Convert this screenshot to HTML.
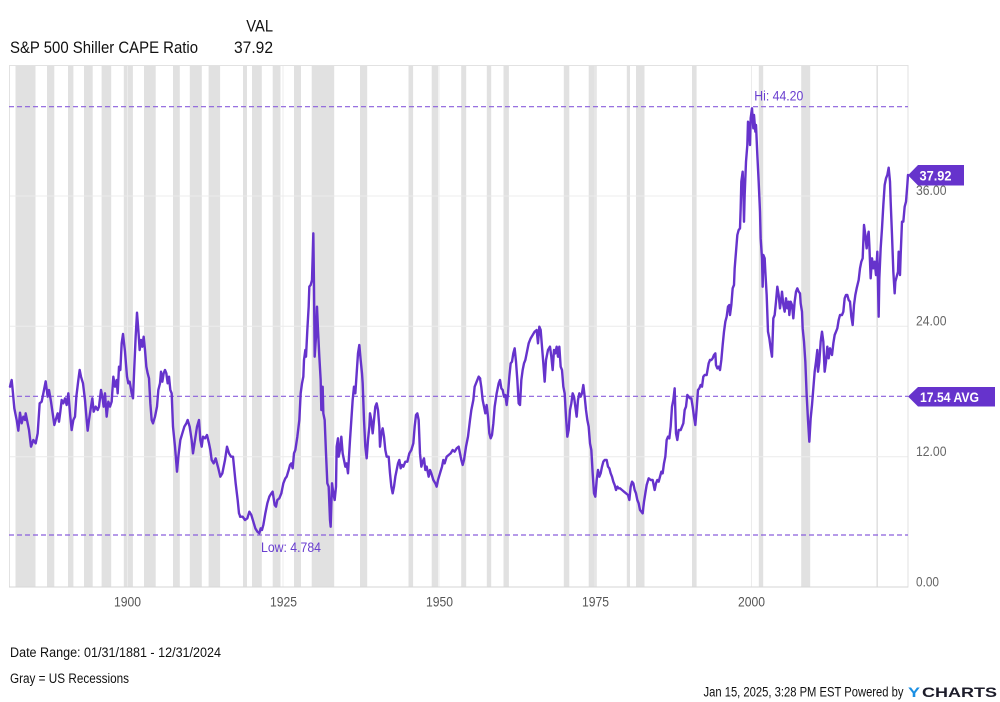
<!DOCTYPE html>
<html><head><meta charset="utf-8"><style>
html,body{margin:0;padding:0;background:#fff;}
svg{display:block;font-family:"Liberation Sans",sans-serif;}
</style></head><body>
<svg width="1000" height="702" viewBox="0 0 1000 702" xmlns="http://www.w3.org/2000/svg">
<rect x="0" y="0" width="1000" height="702" fill="#fff"/>
<!-- header -->
<text x="10" y="53" font-size="17" fill="#111" textLength="188" lengthAdjust="spacingAndGlyphs">S&amp;P 500 Shiller CAPE Ratio</text>
<text x="273" y="31.7" font-size="17" fill="#111" text-anchor="end" textLength="26.7" lengthAdjust="spacingAndGlyphs">VAL</text>
<text x="273" y="53" font-size="17" fill="#111" text-anchor="end" textLength="39" lengthAdjust="spacingAndGlyphs">37.92</text>
<!-- recession bands -->
<g fill="#e1e1e1">
<rect x="15.5" y="65" width="20" height="522"/>
<rect x="47" y="65" width="7.3" height="522"/>
<rect x="68" y="65" width="5.4" height="522"/>
<rect x="84" y="65" width="8.7" height="522"/>
<rect x="101.6" y="65" width="9.6" height="522"/>
<rect x="123.8" y="65" width="9.1" height="522"/>
<rect x="144" y="65" width="11.7" height="522"/>
<rect x="173" y="65" width="6.8" height="522"/>
<rect x="189.8" y="65" width="12" height="522"/>
<rect x="208.6" y="65" width="11.5" height="522"/>
<rect x="243" y="65" width="4" height="522"/>
<rect x="252" y="65" width="9.8" height="522"/>
<rect x="272.7" y="65" width="7.8" height="522"/>
<rect x="294" y="65" width="7" height="522"/>
<rect x="311.7" y="65" width="22.5" height="522"/>
<rect x="360" y="65" width="7.2" height="522"/>
<rect x="408.5" y="65" width="4.6" height="522"/>
<rect x="431.7" y="65" width="6.4" height="522"/>
<rect x="461.2" y="65" width="5" height="522"/>
<rect x="486.8" y="65" width="4.4" height="522"/>
<rect x="503.5" y="65" width="5.4" height="522"/>
<rect x="563.8" y="65" width="5.5" height="522"/>
<rect x="588.7" y="65" width="8" height="522"/>
<rect x="626.8" y="65" width="3.2" height="522"/>
<rect x="636" y="65" width="8.5" height="522"/>
<rect x="692" y="65" width="4.6" height="522"/>
<rect x="758.8" y="65" width="4.4" height="522"/>
<rect x="801.2" y="65" width="9" height="522"/>
<rect x="876.4" y="65" width="1.6" height="522"/>
</g>
<!-- grid -->
<g stroke="#ececec" stroke-width="1">
<line x1="9" y1="196" x2="908" y2="196"/>
<line x1="9" y1="326.3" x2="908" y2="326.3"/>
<line x1="9" y1="456.7" x2="908" y2="456.7"/>
<line x1="127.5" y1="65" x2="127.5" y2="587"/>
<line x1="283" y1="65" x2="283" y2="587"/>
<line x1="439" y1="65" x2="439" y2="587"/>
<line x1="595" y1="65" x2="595" y2="587"/>
<line x1="751.5" y1="65" x2="751.5" y2="587"/>
</g>
<!-- plot border -->
<rect x="9.5" y="65.5" width="898.5" height="521.5" fill="none" stroke="#e2e2e2" stroke-width="1"/>
<line x1="9" y1="587" x2="908" y2="587" stroke="#d6d6d6" stroke-width="1"/>
<!-- dashed lines -->
<g stroke="#8a5fdc" stroke-width="1.2" stroke-dasharray="5,3" fill="none">
<line x1="9" y1="106.7" x2="908" y2="106.7"/>
<line x1="9" y1="396.3" x2="908" y2="396.3"/>
<line x1="9" y1="535" x2="908" y2="535"/>
</g>
<!-- series -->
<g fill="none" stroke="#6633cc" stroke-width="2.4" stroke-linejoin="round" stroke-linecap="round">
<g transform="translate(5,220) scale(0.3333333)">
<polyline vector-effect="non-scaling-stroke" points="15,500 20,480 23,510 28,565 35,600 40,632 45,578 50,610 55,590 60,600 62,580 68,610 72,630 78,680 85,660 92,670 98,640 104,550 110,545 115,520 122,484 128,530 132,510 138,545 143,580 148,615 152,600 158,580 162,605 166,575 170,540 175,550 180,535 185,555 190,520 196,590 200,630 205,600 210,590 214,530 220,480 224,450 228,470 234,490 240,540 245,600 248,632 252,600 258,560 262,535 266,575 272,560 278,570 282,560 288,510 292,530 296,560 300,520 305,590 310,545 315,560 320,545 325,470 330,500 335,480 338,520 342,440 346,450 350,370 354,342 360,395 366,470 370,490 374,485 380,520 384,535 388,440 392,350 396,278 400,330 404,390 408,360 412,380 416,350 420,390 424,440 428,460 432,475 436,550 440,600 444,610 450,590 456,560 460,510 465,490 468,455 472,485 476,460 480,450 484,460 488,490 492,470 496,510 500,520 504,620 510,680 516,755 520,710 526,660 532,640 538,620 544,610 548,600 554,620 560,660 564,700 570,660 576,620 582,600 586,660 590,680 594,650 600,655 606,645 612,670 616,690 620,720 626,730 632,715 636,730 640,745 646,770 652,760 656,740 660,720 666,680 672,700 678,710 684,710 688,750 692,790 698,840 702,880 706,890"/>
</g>
<g transform="translate(240,220) scale(0.3333333)">
<polyline vector-effect="non-scaling-stroke" points="0,890 8,890 15,900 22,895 28,875 34,885 40,905 46,925 52,935 58,940 62,925 66,930 70,915 76,880 82,850 88,830 94,820 98,815 104,855 108,860 112,840 118,835 124,820 130,790 136,775 140,770 146,750 150,735 154,730 158,745 162,700 166,690 172,650 178,600 182,520 186,490 190,470 192,420 196,390 198,410 202,330 206,260 208,200 212,195 216,180 220,40 222,200 224,410 228,350 231,260 234,330 238,410 242,480 244,570 248,500 250,580 254,600 258,700 262,790 266,800 270,900 272,920 276,790 280,820 284,840 288,800 290,680 294,655 296,710 300,690 304,650 308,700 312,720 316,740 320,730 324,760 330,660 334,600 338,540 342,500 346,520 350,460 354,400 358,375 362,420 366,460 368,490 372,600 376,680 380,715 384,660 388,620 390,580 394,600 398,640 402,600 406,560 410,550 414,570 418,620 420,680 424,640 428,625 432,650 436,690 440,710 446,710 450,760 454,800 458,820 462,800 466,770 470,750 474,730 478,720 482,745 486,735 490,740 496,725 502,725 508,700 514,690 520,670 524,620 528,585 532,580 536,600 540,700 544,740 548,725 552,715 556,750 560,740 566,770 570,750 574,760 580,780 586,790 590,800 594,780 600,760 606,740 610,720 614,730 620,710 626,705 632,700 638,690 644,695 650,685 656,680 660,700 664,720 668,735 672,720 678,680 684,650 690,600 694,570 700,540 704,500 708,490 712,480 716,470 720,475"/>
</g>
<g transform="translate(470,300) scale(0.3333333)">
<polyline vector-effect="non-scaling-stroke" points="30,235 34,262 38,300 42,320 46,340 50,315 54,350 58,400 62,415 66,405 70,370 74,320 80,280 86,250 90,240 94,265 98,270 102,290 106,285 110,315 114,280 118,230 122,190 126,185 130,160 134,145 138,185 142,240 146,310 150,315 154,240 158,210 162,190 166,180 170,160 176,130 182,115 188,105 194,95 200,90 204,130 208,80 212,90 216,140 220,190 224,245 228,180 234,150 240,140 244,170 248,210 252,150 256,160 260,140 264,170 268,140 272,200 276,210 280,260 284,280 288,350 292,410 296,390 300,330 304,310 308,280 312,290 316,320 320,350 324,300 328,280 332,290 336,280 340,255 344,290 348,330 352,360 356,380 360,430 364,450 368,520 372,580 376,590 380,540 384,510 388,530 392,520 396,500 400,485 404,480 410,480 414,500 418,505 422,520 426,530 430,545 434,555 438,570 442,560 446,565 450,565 456,570 462,575 468,580 474,585 478,600 482,560 486,545 490,550 494,570 498,580 502,600 506,610 510,630 514,635 518,640 522,605 526,580 530,555 536,535 542,540 548,540 554,570 558,550 562,540 566,545 570,530 574,515 578,520 582,490 586,470 590,420 594,410 598,415 602,380 606,320 610,300 614,265 618,400 622,420 626,390 632,390 636,380 640,370 644,330 648,320 652,285 656,290 660,295 664,295 668,320 672,350 676,375 680,325 684,270 688,265 692,255 696,260 700,230 704,225 710,225 716,190 720,180"/>
</g>
<g transform="translate(680,95) scale(0.3333333)">
<polyline vector-effect="non-scaling-stroke" points="90,795 94,795 98,790 102,780 106,775 108,810 112,820 116,815 120,825 124,795 128,750 132,710 136,680 140,665 144,635 148,630 150,660 154,630 158,580 162,570 164,520 168,470 172,420 176,405 180,400 182,340 184,260 188,230 190,290 192,380 194,300 198,200 202,150 204,80 208,90 210,150 212,70 216,40 218,70 220,100 222,60 226,110 228,90 232,180 236,260 240,350 242,430 246,490 248,575 250,480 254,490 256,530 260,600 264,710 268,730 272,760 276,785 280,670 284,660 288,620 292,575 296,600 300,640 304,610 306,590 310,630 314,650 318,610 322,640 326,620 328,660 332,620 336,630 340,670 344,620 348,590 352,580 356,590 360,595 362,625 366,650 368,700 372,740 376,800 380,900 384,975 388,1040 392,970 396,930 400,880 404,830 408,800 412,765 414,830 418,800 422,740 426,710 430,740 434,830 438,800 442,755 446,790 450,760 456,780 460,745 464,720 468,710 472,700 476,675 480,660 486,660 490,650 494,610 498,600 502,600 506,615 510,620 514,665 518,690 522,630 526,600 530,580 536,555 540,520 544,500 548,490 552,390 556,420 560,460 564,420 566,410 568,450 572,550 576,490 580,520 584,500 588,540 592,470 596,665 598,550 602,460 606,400 610,330 614,270 618,250 622,240 626,218 630,260 632,320 636,420 640,530 644,595 646,560 650,545 654,530 656,470 660,540 662,480 666,380 670,380 674,335 678,320 682,270 684,240"/>
</g>
</g>
<!-- hi / low labels -->
<text x="754.3" y="100.5" font-size="14" fill="#6a3fd0" textLength="49" lengthAdjust="spacingAndGlyphs">Hi: 44.20</text>
<text x="261" y="552" font-size="14" fill="#6a3fd0" textLength="60" lengthAdjust="spacingAndGlyphs">Low: 4.784</text>
<!-- value boxes -->
<polygon points="908,175.2 918,165 964,165 964,185.5 918,185.5" fill="#6633cc"/>
<text x="919.5" y="180.5" font-size="14" font-weight="bold" fill="#fff" textLength="32" lengthAdjust="spacingAndGlyphs">37.92</text>
<polygon points="908,396.5 918,387 995,387 995,406.5 918,406.5" fill="#6633cc"/>
<text x="920" y="401.8" font-size="14" font-weight="bold" fill="#fff" textLength="59" lengthAdjust="spacingAndGlyphs">17.54 AVG</text>
<!-- y-axis labels -->
<g font-size="14" fill="#666">
<text x="916" y="195" textLength="30.5" lengthAdjust="spacingAndGlyphs">36.00</text>
<text x="916" y="325.5" textLength="30.5" lengthAdjust="spacingAndGlyphs">24.00</text>
<text x="916" y="456" textLength="30.5" lengthAdjust="spacingAndGlyphs">12.00</text>
<text x="916" y="586.5" textLength="23" lengthAdjust="spacingAndGlyphs">0.00</text>
</g>
<!-- x-axis labels -->
<g font-size="13.5" fill="#555" text-anchor="middle">
<text x="127.5" y="606.5" textLength="27" lengthAdjust="spacingAndGlyphs">1900</text>
<text x="283.5" y="606.5" textLength="27" lengthAdjust="spacingAndGlyphs">1925</text>
<text x="439.5" y="606.5" textLength="27" lengthAdjust="spacingAndGlyphs">1950</text>
<text x="595.5" y="606.5" textLength="27" lengthAdjust="spacingAndGlyphs">1975</text>
<text x="751.5" y="606.5" textLength="27" lengthAdjust="spacingAndGlyphs">2000</text>
</g>
<!-- footer -->
<text x="10" y="657" font-size="13.5" fill="#111" textLength="211" lengthAdjust="spacingAndGlyphs">Date Range: 01/31/1881 - 12/31/2024</text>
<text x="10" y="683" font-size="13.5" fill="#111" textLength="119" lengthAdjust="spacingAndGlyphs">Gray = US Recessions</text>
<text x="703.5" y="696.5" font-size="13.5" fill="#111" textLength="200" lengthAdjust="spacingAndGlyphs">Jan 15, 2025, 3:28 PM EST Powered by</text>
<text x="908" y="697" font-size="14" font-weight="bold" fill="#1a8fe3" textLength="12" lengthAdjust="spacingAndGlyphs">Y</text>
<text x="922" y="697" font-size="14" font-weight="bold" fill="#1c1c2a" textLength="75" lengthAdjust="spacingAndGlyphs">CHARTS</text>
</svg>
</body></html>
